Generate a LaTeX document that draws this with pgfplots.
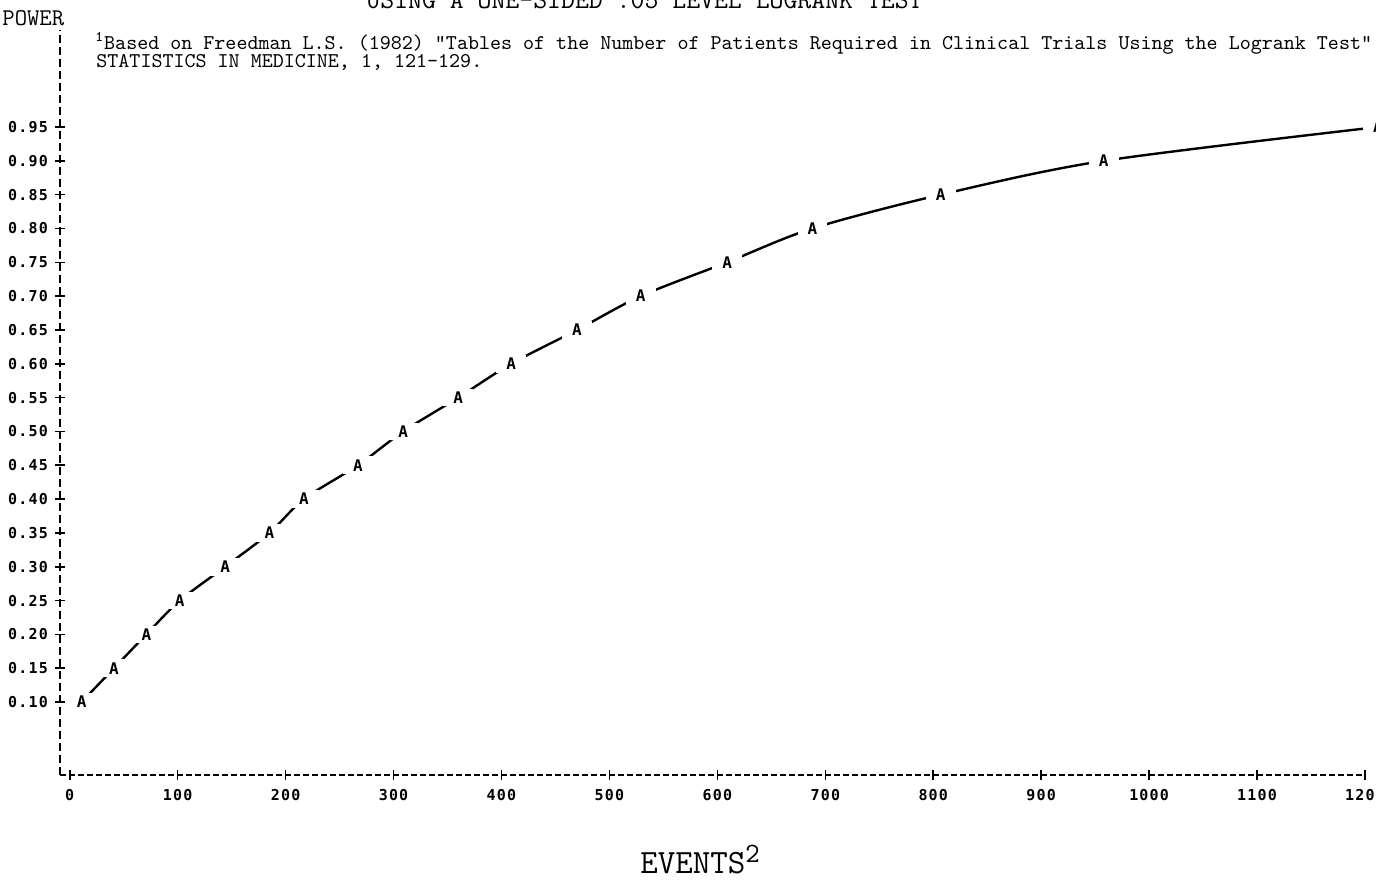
\documentclass[border=0pt]{standalone}
\usepackage{pgfplots}
\pgfplotsset{compat=1.18}
\usepackage{fontspec}
\setmainfont{Liberation Mono}
\newfontfamily\tickfont[LetterSpace=8]{DejaVu Sans Mono}

\begin{document}
\begin{tikzpicture}
% page = 1376 x 879 px at 0.5pt per px
\path[use as bounding box] (0,0) rectangle (688pt,-439.5pt);

\begin{axis}[
    at={(30pt,-387.5pt)}, anchor=south west,
    scale only axis, width=652.5pt, height=372.5pt,
    xmin=-9, xmax=1200, ymin=-0.0079, ymax=1.0934,
    axis lines*=left,
    x axis line style={line width=0.8pt, dash pattern=on 3pt off 1.5pt},
    y axis line style={line width=0.8pt, dash pattern=on 4pt off 2pt},
    xtick={0,100,200,300,400,500,600,700,800,900,1000,1100,1200},
    ytick={0.10,0.15,0.20,0.25,0.30,0.35,0.40,0.45,0.50,0.55,0.60,0.65,0.70,0.75,0.80,0.85,0.90,0.95},
    yticklabel style={/pgf/number format/fixed, /pgf/number format/fixed zerofill, /pgf/number format/precision=2},
    xticklabel style={/pgf/number format/set thousands separator={}, yshift=-1pt},
    /pgf/number format/assume math mode=true,
    tick label style={font=\tickfont\bfseries\fontsize{7.5}{8}\selectfont},
    tick align=center, major tick length=5pt,
    tick style={line width=0.8pt, black, solid},
    clip=false,
]
\addplot[black, line width=1.2pt, smooth,
    nodes near coords={A},
    every node near coord/.append style={anchor=center, fill=white,
        inner xsep=5pt, inner ysep=1.5pt,
        font=\tickfont\bfseries\fontsize{8}{8}\selectfont}]
coordinates {
    (11,0.10) (41,0.15) (71,0.20) (102,0.25) (144,0.30) (185,0.35)
    (217,0.40) (267,0.45) (309,0.50) (360,0.55) (409,0.60) (470,0.65)
    (529,0.70) (609,0.75) (688,0.80) (807,0.85) (958,0.90) (1212,0.95)
};
\end{axis}

% labels and notes
\node[anchor=base west, font=\ttfamily\fontsize{12}{13}\selectfont, inner sep=0pt] at (1pt,-12.5pt) {POWER};
\node[anchor=base, font=\ttfamily\fontsize{13.5}{14}\selectfont, inner sep=0pt] at (325pt,-4pt) {USING A ONE-SIDED .05 LEVEL LOGRANK TEST\textsuperscript{1}};
\node[anchor=base west, font=\ttfamily\fontsize{10.5}{11}\selectfont, inner sep=0pt] at (47.5pt,-24.5pt)
    {\textsuperscript{1}Based on Freedman L.S. (1982) "Tables of the Number of Patients Required in Clinical Trials Using the Logrank Test"};
\node[anchor=base west, font=\ttfamily\fontsize{10.5}{11}\selectfont, inner sep=0pt] at (48pt,-33.5pt)
    {STATISTICS IN MEDICINE, 1, 121-129.};
\node[anchor=base, font=\ttfamily\fontsize{17}{18}\selectfont, inner sep=0pt] at (350pt,-436.5pt)
    {EVENTS\raisebox{0.7ex}{\fontsize{14}{15}\selectfont 2}};
\end{tikzpicture}
\end{document}
